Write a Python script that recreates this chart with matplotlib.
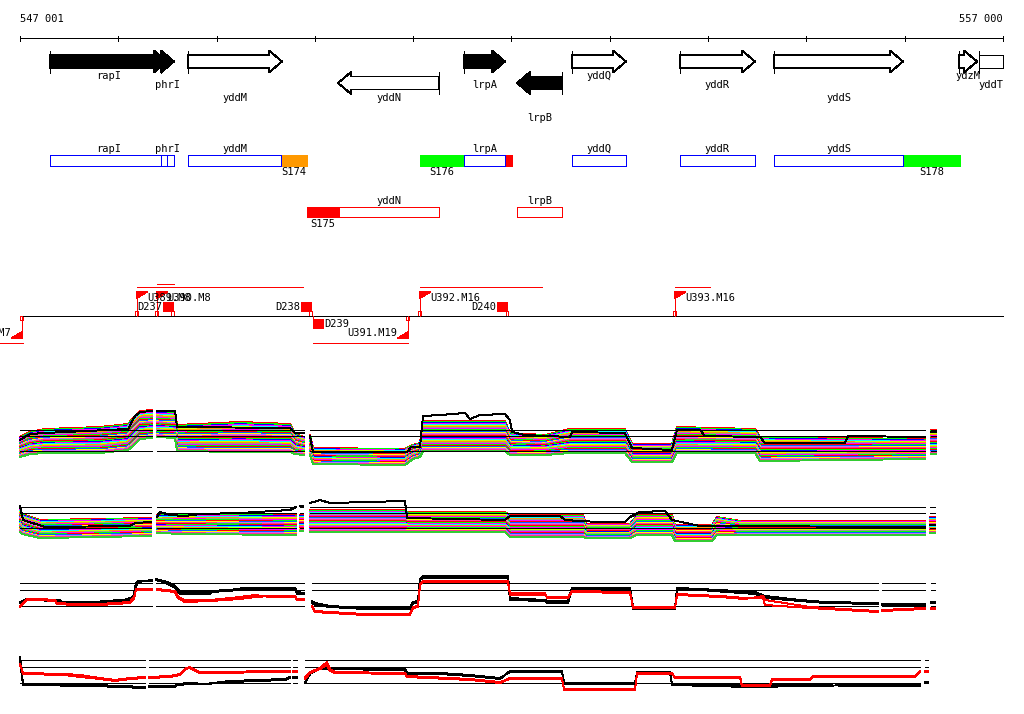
import numpy as np
import matplotlib
matplotlib.use("Agg")
import matplotlib.pyplot as plt
from matplotlib.patches import Polygon, Rectangle

plt.rcParams["font.family"] = ["DejaVu Sans Mono"]
NaN = np.nan

# ---------------- data ----------------
VIEW_START, VIEW_END = 547001, 557000
scale_ticks = [547001, 548000, 549000, 550000, 551000, 552000, 553000, 554000, 555000, 556000, 557000]
scale_labels = ["547 001", "557 000"]

gene_names = ["rapI", "phrI", "yddM", "yddN", "lrpA", "lrpB", "yddQ", "yddR", "yddS", "ydzM", "yddT"]
gene_starts = [547306, 548435, 548710, 550236, 551517, 552057, 552616, 553714, 554670, 556553, 556756]
gene_ends = [548496, 548567, 549666, 551263, 551934, 552514, 553165, 554477, 555983, 556736, 557300]
gene_strand = [1, 1, 1, -1, 1, -1, 1, 1, 1, 1, 1]
gene_filled = [True, True, False, False, True, True, False, False, False, False, False]
gene_label_y = [76, 85, 98, 98, 85, 118, 76, 85, 98, 76, 85]

box_names = ["rapI", "phrI", "yddM", "lrpA", "yddQ", "yddR", "yddS", "yddN", "lrpB"]
box_starts = [547306, 548435, 548710, 551517, 552616, 553714, 554670, 550236, 552057]
box_ends = [548496, 548567, 549656, 551934, 553165, 554477, 555983, 551263, 552514]
box_rows = [0, 0, 0, 0, 0, 0, 0, 1, 1]
box_colors = ["#0000ff"] * 7 + ["#ff0000"] * 2

seg_names = ["S174", "S176", "", "S178", "S175"]
seg_starts = [549656, 551070, 551934, 555993, 549920]
seg_ends = [549920, 551517, 552006, 556563, 550246]
seg_rows = [0, 0, 0, 0, 1]
seg_colors = ["#ff9900", "#00ff00", "#ff0000", "#00ff00", "#ff0000"]

flag_names = ["U388.M7", "U389.M8", "U390.M8", "U391.M19", "U392.M16", "U393.M16"]
flag_pos = [547021, 548191, 548395, 550948, 551070, 553664]
flag_dir = [-1, 1, 1, -1, 1, 1]
flag_span_start = [546700, 548191, 548395, 549981, 551070, 553664]
flag_span_end = [547031, 549880, 548567, 550948, 552311, 554020]
flag_span_y = [343, 287, 284, 343, 287, 287]

del_names = ["D237", "D238", "D239", "D240"]
del_pos = [548557, 549961, 549981, 551955]
del_dir = [1, 1, -1, 1]

# profile panels: reference levels and probe segments
p1_ref = [430, 436, 451]
p2_ref = [507, 513, 528]
p3_ref = [583, 590, 606]
p4_ref = [660, 667, 683]
p1_segs = [(547001, 548344), (548395, 549890), (549951, 556207), (556268, 556319)]
p2_segs = [(547001, 548334), (548395, 549809), (549849, 549880), (549951, 556207), (556258, 556308)]
p3_segs = [(547001, 548344), (548384, 549890), (549971, 555729), (555769, 556207), (556268, 556308)]
p4_segs = [(547001, 548273), (548313, 549747), (549778, 549819), (549900, 556156), (556207, 556237)]

# panel 1 multi-sample band
p1_pos = [547001, 547103, 547255, 547815, 548100, 548150, 548222, 548344, NaN,
          548395, 548578, 548598, 549239, 549747, 549798, 549890, NaN,
          549951, 549981, 550917, 550999, 551070, 551100, 551934, 551985, 552341, 552596,
          553155, 553226, 553633, 553684, 554477, 554528, 556207, NaN,
          556268, 556319]
p1_center = [447, 443, 441, 440, 437, 432, 425, 424, NaN,
             424, 425, 438, 437, 438, 444, 446, NaN,
             445, 456, 457, 452, 450, 436, 436, 444, 445, 441, 441, 453, 453, 440, 441, 449, 449, NaN,
             442, 442]
p1_half = [10, 11, 12, 13, 13, 14, 14, 14, NaN,
           13, 13, 13, 15, 14, 10, 9, NaN,
           10, 8, 8, 7, 7, 15, 15, 11, 10, 12, 12, 9, 9, 13, 12, 12, 10, NaN,
           12, 12]
p1_black_pos = [547001, 547103, 547255, 548100, 548171, 548222, 548344, NaN,
                548395, 548578, 548598, 549747, 549798, 549890, NaN,
                549951, 549981, 550938, 550978, 551070, 551100, 551273, 551528, 551578, 551680,
                551934, 551985, 552006, 552138, 552596, 552616, 553155, 553226, 553633, 553684,
                553918, 553969, 554528, 554579, 555393, 555423, 556207, NaN,
                556268, 556319]
p1_black = [440, 434, 433, 429, 416, 412, 411, NaN,
            411, 411, 427, 428, 433, 433, NaN,
            436, 452, 452, 447, 447, 416, 415, 413, 419, 415,
            414, 420, 432, 435, 437, 432, 433, 448, 450, 430,
            430, 436, 437, 443, 443, 436, 437, NaN,
            432, 432]

# panel 2 multi-sample band
p2_pos = [547001, 547021, 547204, 547815, 548273, 548334, NaN,
          548395, 548679, 549809, NaN,
          549849, 549880, NaN,
          549951, 550917, 550938, 551934, 551985, 552728, 552758, 553206, 553277, 553633,
          553664, 554040, 554091, 554325, 556207, NaN,
          556258, 556308]
p2_center = [520, 524, 529, 528, 527, 527, NaN,
             524, 524, 525, NaN,
             523, 523, NaN,
             521, 521, 522, 522, 526, 526, 531, 531, 525, 525, 533, 533, 526, 528, 528, NaN,
             525, 525]
p2_half = [12, 10, 9, 9, 9, 9, NaN,
           9, 10, 10, NaN,
           8, 8, NaN,
           11, 11, 10, 10, 11, 11, 7, 7, 10, 10, 8, 8, 9, 7, 7, NaN,
           8, 8]
p2_black_pos = [547001, 547032, 547255, 548120, 548171, 548334, NaN,
                548395, 548425, 548527, 548679, 548832, 549239, 549747, 549809, NaN,
                549849, 549880, NaN,
                549951, 550053, 550154, 550917, 550938, 551934, 551985, 552494, 552545, 552697,
                552901, 553155, 553206, 553308, 553562, 553633, 553918, 556207, NaN,
                556258, 556308]
p2_black = [506, 520, 527, 526, 523, 522, NaN,
            517, 512, 515, 516, 514, 513, 510, 507, NaN,
            506, 506, NaN,
            503, 500, 503, 501, 518, 520, 516, 516, 520, 521,
            522, 522, 517, 512, 511, 520, 526, 527, NaN,
            525, 525]

# panel 3 (two black, two red)
p3_black_pos = [547001, 547072, 547408, 547428, 547815, 547835, 548069, 548089, 548150, 548181, 548201, 548344, NaN,
                548384, 548425, 548527, 548578, 548629, 548934, 548954, 549239, 549259, 549798, 549819, 549890, NaN,
                549971, 550002, 550154, 550510, 550968, 550999, 551049, 551070, 551100, 551965, 551985,
                552341, 552362, 552575, 552616, 553206, 553237, 553664, 553684, 553918, 554477, 554579,
                554935, 555190, 555729, NaN,
                555769, 556207, NaN,
                556268, 556308]
p3_black_a = [603, 600, 601, 603, 603, 602, 602, 600, 599, 583, 581, 581, NaN,
              580, 581, 585, 588, 594, 594, 592, 590, 589, 589, 594, 594, NaN,
              603, 605, 607, 609, 609, 603, 603, 580, 578, 578, 600,
              601, 603, 603, 589, 590, 609, 609, 589, 590, 594, 598,
              601, 603, 604, NaN,
              605, 605, NaN,
              603, 603]
p3_black_b = [602, 599, 600, 602, 602, 601, 600, 599, 597, 586, 582, 580, NaN,
              579, 580, 583, 586, 592, 592, 591, 589, 588, 588, 592, 593, NaN,
              601, 603, 606, 608, 608, 602, 601, 579, 576, 576, 598,
              600, 601, 601, 588, 588, 607, 608, 588, 589, 592, 596,
              600, 602, 603, NaN,
              604, 604, NaN,
              602, 602]
p3_red_pos = [547001, 547072, 547204, 547357, 547377, 547561, 547815, 548120, 548161, 548181, 548344, NaN,
              548395, 548578, 548608, 548679, 548934, 549239, 549391, 549544, 549798, 549819, 549890, NaN,
              549971, 550002, 550154, 550510, 550968, 550999, 551049, 551070, 551100, 551965, 551985,
              552341, 552362, 552575, 552616, 553206, 553237, 553664, 553684, 554121, 554376, 554559,
              554579, 555037, 555546, 555729, NaN,
              555769, 556207, NaN,
              556268, 556308]
p3_red_a = [607, 600, 600, 601, 604, 605, 605, 603, 599, 589, 589, NaN,
            589, 591, 597, 600, 600, 597, 595, 597, 597, 600, 600, NaN,
            607, 612, 613, 615, 615, 608, 607, 584, 581, 581, 593,
            593, 598, 598, 591, 592, 608, 608, 594, 596, 598, 598,
            605, 608, 611, 612, NaN,
            611, 609, NaN,
            609, 609]
p3_red_b = [606, 599, 599, 600, 603, 604, 604, 602, 597, 590, 590, NaN,
            590, 592, 598, 602, 601, 599, 597, 596, 596, 599, 599, NaN,
            606, 611, 612, 614, 614, 607, 606, 585, 582, 582, 595,
            595, 597, 597, 592, 593, 607, 607, 595, 597, 599, 596,
            600, 607, 610, 611, NaN,
            610, 608, NaN,
            608, 608]

# panel 4 (two black, two red)
p4_black_pos = [547001, 547032, 547764, 548018, 548273, NaN,
                548313, 548578, 548598, 548730, 548883, 549137, 549697, 549747, NaN,
                549778, 549819, NaN,
                549900, 549951, 550053, 550917, 550938, 551273, 551578, 551884, 551985, 552514,
                552535, 553257, 553277, 553613, 553633, 554427, 556156, NaN,
                556207, 556237]
p4_black_a = [657, 684, 685, 686, 687, NaN,
              686, 686, 684, 683, 684, 681, 679, 677, NaN,
              677, 677, NaN,
              683, 674, 668, 669, 673, 673, 675, 678, 672, 671,
              683, 683, 673, 673, 684, 685, 686, NaN,
              682, 682]
p4_black_b = [660, 685, 686, 687, 688, NaN,
              687, 687, 685, 684, 684, 682, 680, 678, NaN,
              678, 678, NaN,
              683, 672, 669, 670, 674, 674, 676, 679, 671, 672,
              684, 684, 672, 672, 685, 687, 684, NaN,
              683, 683]
p4_red_pos = [547001, 547032, 547459, 547611, 547815, 547968, 548120, 548273, NaN,
              548313, 548527, 548629, 548690, 548730, 548781, 548832, 549747, NaN,
              549778, 549819, NaN,
              549900, 549951, 550053, 550124, 550154, 550205, 550917, 550938, 551578, 551884,
              551985, 552514, 552535, 553257, 553277, 553633, 553664, 554325, 554345, 554630,
              554650, 555037, 555068, 556105, 556156, NaN,
              556207, 556237]
p4_red_a = [665, 673, 674, 675, 678, 680, 678, 677, NaN,
            677, 676, 674, 668, 667, 670, 672, 671, NaN,
            671, 671, NaN,
            677, 672, 668, 662, 669, 672, 673, 676, 679, 682,
            679, 679, 689, 689, 674, 674, 677, 677, 685, 685,
            679, 679, 676, 676, 671, NaN,
            671, 671]
p4_red_b = [664, 674, 675, 677, 679, 681, 679, 678, NaN,
            678, 677, 675, 669, 668, 671, 673, 672, NaN,
            672, 672, NaN,
            679, 673, 669, 665, 671, 673, 674, 677, 680, 683,
            678, 678, 690, 690, 673, 673, 678, 678, 686, 686,
            680, 680, 677, 677, 672, NaN,
            672, 672]

# relative position of each sample inside the band (-1 = top, +1 = bottom)
band_offsets = [-1.0, -0.93, -0.85, -0.8, -0.72, -0.66, -0.6, -0.52, -0.47, -0.4, -0.33,
                -0.27, -0.2, -0.14, -0.08, -0.02, 0.03, 0.1, 0.16, 0.22, 0.28, 0.35, 0.41,
                0.47, 0.53, 0.6, 0.66, 0.72, 0.8, 0.86, 0.93, 1.0]
palette = ["#ff0000", "#00ff00", "#0000ff", "#ff00ff", "#00ffff", "#ccff00", "#ff9900",
           "#999999", "#ff00ff", "#00ff00", "#ff0000", "#0066ff", "#ffff00", "#cc66ff",
           "#ff3399", "#33cc33"]

# ---------------- drawing ----------------
fig = plt.figure(figsize=(10.24, 7.14), dpi=100)
ax = fig.add_axes([0, 0, 1, 1])
BPP = (VIEW_END - VIEW_START) / 983.0
ax.set_xlim(VIEW_START - 20 * BPP, VIEW_START + 1004 * BPP)
ax.set_ylim(714, 0)
ax.axis("off")
FS = 7.5
RED = "#ff0000"
LW = 0.7

# scale
ax.plot([VIEW_START, VIEW_END], [38, 38], color="black", lw=LW, antialiased=False)
ax.vlines(scale_ticks, 35.5, 41, color="black", lw=LW, antialiased=False)
ax.text(VIEW_START, 19, scale_labels[0], ha="left", va="center", fontsize=FS)
ax.text(VIEW_END, 19, scale_labels[1], ha="right", va="center", fontsize=FS)

# genes
ROW_FWD, ROW_REV = 61.5, 83
BH, HH = 6.5, 11
HEAD = 13 * BPP
for name, s, e, strand, filled, ly in zip(gene_names, gene_starts, gene_ends, gene_strand,
                                          gene_filled, gene_label_y):
    c = ROW_FWD if strand > 0 else ROW_REV
    fc = "black" if filled else "white"
    if e > VIEW_END:
        e2 = VIEW_END
        pts = [(s, c - BH), (e2, c - BH), (e2, c + BH), (s, c + BH)]
        bar = s
    elif strand > 0:
        e2 = e
        hl = min(HEAD, e - s)
        pts = [(s, c - BH), (e - hl, c - BH), (e - hl, c - HH), (e, c),
               (e - hl, c + HH), (e - hl, c + BH), (s, c + BH)]
        bar = s
    else:
        e2 = e
        hl = min(HEAD, e - s)
        pts = [(e, c - BH), (s + hl, c - BH), (s + hl, c - HH), (s, c),
               (s + hl, c + HH), (s + hl, c + BH), (e, c + BH)]
        bar = e
    ax.add_patch(Polygon(pts, closed=True, fc=fc, ec="black", lw=LW,
                         antialiased=False, zorder=3))
    ax.vlines(bar, c - HH, c + HH, color="black", lw=LW, antialiased=False, zorder=3)
    ax.text((s + e2) / 2, ly, name, ha="center", va="center", fontsize=FS)

# annotation boxes
ROW_Y = [160.8, 212.3]
ROW_H = [5.5, 5.0]
for name, s, e, r, col in zip(seg_names, seg_starts, seg_ends, seg_rows, seg_colors):
    ax.add_patch(Rectangle((s, ROW_Y[r] - ROW_H[r]), e - s, 2 * ROW_H[r], fc=col, ec=col,
                           lw=LW, antialiased=False, zorder=2))
    if name:
        ax.text((s + e) / 2, ROW_Y[r] + 11.5, name, ha="center", va="center", fontsize=FS)
for name, s, e, r, col in zip(box_names, box_starts, box_ends, box_rows, box_colors):
    ax.add_patch(Rectangle((s, ROW_Y[r] - ROW_H[r]), e - s, 2 * ROW_H[r], fc="none", ec=col,
                           lw=LW, antialiased=False, zorder=3))
    ax.text((s + e) / 2, ROW_Y[r] - 11.8, name, ha="center", va="center", fontsize=FS)

# track with features
TRACK = 316
ax.plot([VIEW_START + 3 * BPP, VIEW_END], [TRACK, TRACK], color="black", lw=LW, antialiased=False)
for name, p, d, s0, s1, sy in zip(flag_names, flag_pos, flag_dir, flag_span_start,
                                  flag_span_end, flag_span_y):
    ax.plot([s0, s1], [sy, sy], color=RED, lw=LW, antialiased=False)
    if d > 0:
        ax.vlines(p, 292, TRACK, color=RED, lw=LW, antialiased=False)
        ax.add_patch(Polygon([(p, 292), (p + 10 * BPP, 292), (p, 298)], closed=True,
                             fc=RED, ec=RED, lw=0.5, antialiased=False))
        ax.add_patch(Rectangle((p - 2 * BPP, 311), 3 * BPP, 5, fc="white", ec=RED, lw=LW,
                               antialiased=False))
        ax.text(p + 10 * BPP, 298, name, ha="left", va="center", fontsize=FS)
    else:
        ax.vlines(p, TRACK, 338, color=RED, lw=LW, antialiased=False)
        ax.add_patch(Polygon([(p, 338), (p - 10 * BPP, 338), (p, 332)], closed=True,
                             fc=RED, ec=RED, lw=0.5, antialiased=False))
        ax.add_patch(Rectangle((p - 2 * BPP, TRACK), 3 * BPP, 4, fc="white", ec=RED, lw=LW,
                               antialiased=False))
        ax.text(p - 11 * BPP, 333, name, ha="right", va="center", fontsize=FS)
for name, p, d in zip(del_names, del_pos, del_dir):
    if d > 0:
        ax.add_patch(Rectangle((p - 10 * BPP, 302), 10 * BPP, 9, fc=RED, ec=RED, lw=0.5,
                               antialiased=False))
        ax.add_patch(Rectangle((p - 1.5 * BPP, 311), 2.5 * BPP, 5, fc="white", ec=RED, lw=LW,
                               antialiased=False))
        ax.text(p - 11 * BPP, 306.5, name, ha="right", va="center", fontsize=FS)
    else:
        ax.vlines(p, TRACK, 319, color=RED, lw=LW, antialiased=False)
        ax.add_patch(Rectangle((p, 319), 10 * BPP, 9, fc=RED, ec=RED, lw=0.5,
                               antialiased=False))
        ax.text(p + 11 * BPP, 324, name, ha="left", va="center", fontsize=FS)


def ref_lines(levels, segs):
    for a, b in segs:
        ax.hlines(levels, a, b, color="black", lw=LW, antialiased=False, zorder=4)


def band(pos, center, half):
    c = np.array(center, dtype=float)
    h = np.array(half, dtype=float)
    for k, off in enumerate(band_offsets):
        ax.plot(pos, c + off * h, color=palette[k % len(palette)], lw=LW,
                antialiased=False, zorder=2 + k * 0.01)


# panel 1
band(p1_pos, p1_center, p1_half)
ref_lines(p1_ref, p1_segs)
ax.plot(p1_black_pos, p1_black, color="black", lw=LW, antialiased=False, zorder=5)
# panel 2
band(p2_pos, p2_center, p2_half)
ref_lines(p2_ref, p2_segs)
ax.plot(p2_black_pos, p2_black, color="black", lw=LW, antialiased=False, zorder=5)
# panel 3
ref_lines(p3_ref, p3_segs)
for vals in (p3_black_a, p3_black_b):
    ax.plot(p3_black_pos, vals, color="black", lw=LW, antialiased=False, zorder=5)
for vals in (p3_red_a, p3_red_b):
    ax.plot(p3_red_pos, vals, color=RED, lw=LW, antialiased=False, zorder=6)
# panel 4
ref_lines(p4_ref, p4_segs)
for vals in (p4_black_a, p4_black_b):
    ax.plot(p4_black_pos, vals, color="black", lw=LW, antialiased=False, zorder=5)
for vals in (p4_red_a, p4_red_b):
    ax.plot(p4_red_pos, vals, color=RED, lw=LW, antialiased=False, zorder=6)

fig.savefig("out.png", dpi=100, facecolor="white")
